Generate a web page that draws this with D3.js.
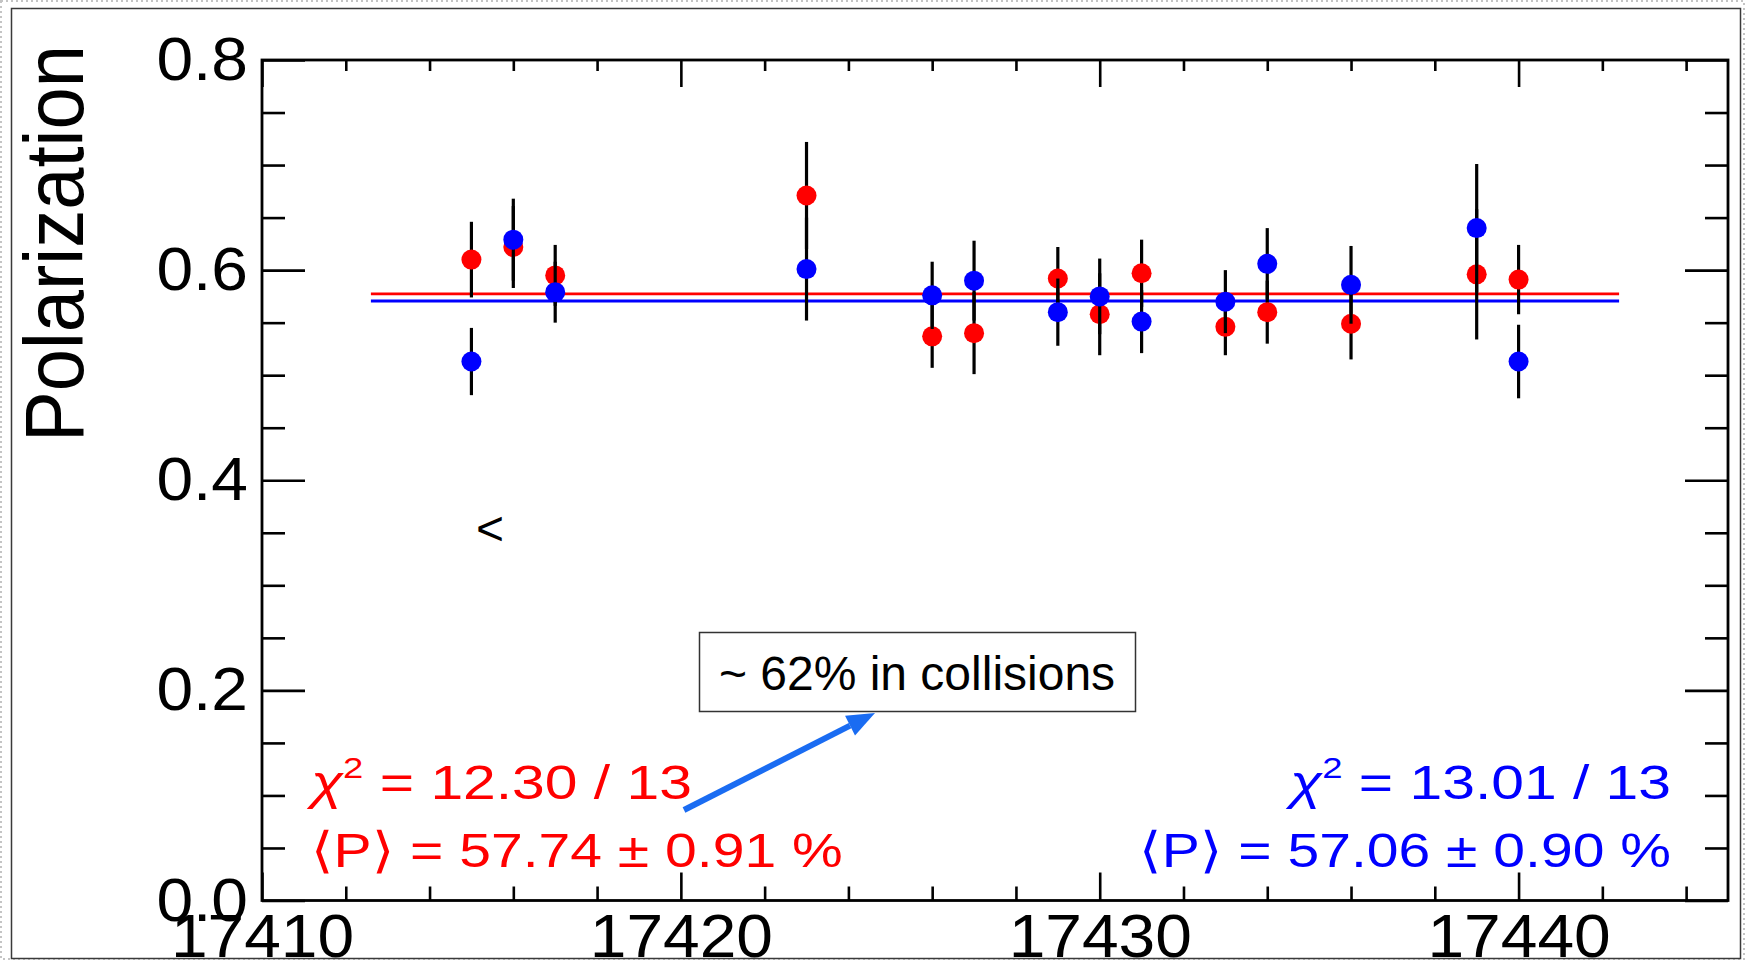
<!DOCTYPE html>
<html>
<head>
<meta charset="utf-8">
<script src="https://cdn.jsdelivr.net/npm/d3@7"></script>
<style>
  html, body { margin: 0; padding: 0; background: #fff; }
  svg { display: block; }
  text { font-family: "Liberation Sans", Arial, Helvetica, sans-serif; }
</style>
</head>
<body>
<svg id="chart" width="1745" height="960"></svg>
<script>
// Fill numbers (day index) and polarization measurements
const days      = [17415, 17416, 17417, 17423, 17426, 17427, 17429, 17430, 17431, 17433, 17434, 17436, 17439, 17440];
const redPol    = [0.610, 0.622, 0.595, 0.671, 0.537, 0.540, 0.592, 0.558, 0.597, 0.546, 0.560, 0.549, 0.596, 0.591];
const redErr    = [0.036, 0.039, 0.029, 0.051, 0.030, 0.039, 0.030, 0.039, 0.032, 0.027, 0.030, 0.034, 0.062, 0.033];
const bluePol   = [0.513, 0.629, 0.579, 0.601, 0.576, 0.590, 0.560, 0.575, 0.551, 0.570, 0.606, 0.586, 0.640, 0.513];
const blueErr   = [0.032, 0.039, 0.029, 0.049, 0.032, 0.038, 0.032, 0.036, 0.030, 0.030, 0.034, 0.037, 0.061, 0.035];

// Constant fit results (fraction) and the range the fit line spans
const fitRed   = 0.5774;
const fitBlue  = 0.5706;
const fitRange = [17412.6, 17442.4];

// Axis tick values
const xMajorTicks = [17410, 17420, 17430, 17440];
const xMinorTicks = [17412, 17414, 17416, 17418, 17422, 17424, 17426, 17428, 17432, 17434, 17436, 17438, 17442, 17444];
const yMajorTicks = [0.0, 0.2, 0.4, 0.6, 0.8];
const yMinorTicks = [0.05, 0.10, 0.15, 0.25, 0.30, 0.35, 0.45, 0.50, 0.55, 0.65, 0.70, 0.75];

// Text blocks
const redLines  = ["= 12.30 / 13", "⟨P⟩ = 57.74 ± 0.91 %"];
const blueLines = ["= 13.01 / 13", "⟨P⟩ = 57.06 ± 0.90 %"];
const boxLabel  = "~ 62% in collisions";
const yTitle    = "Polarization";

const RED = "#ff0000", BLUE = "#0000ff";
const svg = d3.select("#chart");

// Page frame
svg.append("rect").attr("x", 1).attr("y", 1).attr("width", 1743).attr("height", 958)
  .attr("fill", "#fff").attr("stroke", "#c4c4c4").attr("stroke-width", 2).attr("stroke-dasharray", "2,3");
svg.append("rect").attr("x", 11.5).attr("y", 8.5).attr("width", 1729).attr("height", 950)
  .attr("fill", "none").attr("stroke", "#3a3a3a").attr("stroke-width", 1.5);

// Plot area
const L = 262, R = 1728, T = 60, B = 900.5;
const x = d3.scaleLinear().domain([17410, 17445]).range([L, R]);
const y = d3.scaleLinear().domain([0, 0.8]).range([B, T]);

const SX = 1.08;   // horizontal stretch of axis labels

function styleAxis(g) {
  g.selectAll(".domain").remove();
  g.selectAll(".tick line").attr("stroke", "#000").attr("stroke-width", 2.6);
}

// Left axis: major ticks with labels, minor ticks
const gl = svg.append("g").attr("transform", `translate(${L},0)`)
  .call(d3.axisLeft(y).tickValues(yMajorTicks).tickSizeInner(-43).tickSizeOuter(0)
    .tickPadding(13).tickFormat(d3.format(".1f")));
styleAxis(gl);
gl.selectAll(".tick text").attr("font-size", 61).attr("fill", "#000")
  .attr("font-family", '"Liberation Sans", Arial, sans-serif')
  .attr("transform", `scale(${SX},1)`);
const glm = svg.append("g").attr("transform", `translate(${L},0)`)
  .call(d3.axisLeft(y).tickValues(yMinorTicks).tickSizeInner(-23).tickSizeOuter(0).tickFormat(""));
styleAxis(glm);

// Right axis: ticks only
const gr = svg.append("g").attr("transform", `translate(${R},0)`)
  .call(d3.axisRight(y).tickValues(yMajorTicks).tickSizeInner(-43).tickSizeOuter(0).tickFormat(""));
styleAxis(gr);
const grm = svg.append("g").attr("transform", `translate(${R},0)`)
  .call(d3.axisRight(y).tickValues(yMinorTicks).tickSizeInner(-23).tickSizeOuter(0).tickFormat(""));
styleAxis(grm);

// Bottom axis
const gb = svg.append("g").attr("transform", `translate(0,${B})`)
  .call(d3.axisBottom(x).tickValues(xMajorTicks).tickSizeInner(-28).tickSizeOuter(0)
    .tickPadding(13).tickFormat(d3.format("d")));
styleAxis(gb);
gb.selectAll(".tick text").attr("font-size", 61).attr("fill", "#000")
  .attr("font-family", '"Liberation Sans", Arial, sans-serif')
  .attr("transform", `scale(${SX},1)`);
const gbm = svg.append("g").attr("transform", `translate(0,${B})`)
  .call(d3.axisBottom(x).tickValues(xMinorTicks).tickSizeInner(-14).tickSizeOuter(0).tickFormat(""));
styleAxis(gbm);

// Top axis: ticks only
const gt = svg.append("g").attr("transform", `translate(0,${T})`)
  .call(d3.axisTop(x).tickValues(xMajorTicks).tickSizeInner(-27).tickSizeOuter(0).tickFormat(""));
styleAxis(gt);
const gtm = svg.append("g").attr("transform", `translate(0,${T})`)
  .call(d3.axisTop(x).tickValues(xMinorTicks).tickSizeInner(-11).tickSizeOuter(0).tickFormat(""));
styleAxis(gtm);

// Axis frame
svg.append("rect").attr("x", L).attr("y", T).attr("width", R - L).attr("height", B - T)
  .attr("fill", "none").attr("stroke", "#000").attr("stroke-width", 2.8);

// Y axis title
svg.append("text")
  .attr("transform", `translate(83,45) scale(1.1,1) rotate(-90)`)
  .attr("text-anchor", "end").attr("font-size", 76).attr("fill", "#000")
  .text(yTitle);

// Fit lines
[[fitRed, RED], [fitBlue, BLUE]].forEach(([v, c]) => {
  svg.append("line")
    .attr("x1", x(fitRange[0])).attr("x2", x(fitRange[1]))
    .attr("y1", y(v)).attr("y2", y(v))
    .attr("stroke", c).attr("stroke-width", 2.8);
});

// Graphs: error bars then markers, red first, blue on top
function drawGraph(vals, errs, color) {
  const data = days.map((d, i) => ({ d, v: vals[i], e: errs[i] }));
  const g = svg.append("g");
  g.selectAll("line.err").data(data).join("line")
    .attr("class", "err")
    .attr("x1", p => x(p.d)).attr("x2", p => x(p.d))
    .attr("y1", p => y(p.v + p.e)).attr("y2", p => y(p.v - p.e))
    .attr("stroke", "#000").attr("stroke-width", 3.2);
  g.selectAll("circle").data(data).join("circle")
    .attr("cx", p => x(p.d)).attr("cy", p => y(p.v)).attr("r", 10)
    .attr("fill", color);
}
drawGraph(redPol, redErr, RED);
drawGraph(bluePol, blueErr, BLUE);

// Fit result text blocks
const TS = 49;
const TSX = [1.2, 1.165];
function fitText(lines, color, xPos, anchor) {
  const base = [799, 867];
  lines.forEach((str, i) => {
    const t = svg.append("text")
      .attr("transform", `translate(${xPos},${base[i]}) scale(${TSX[i]},1)`)
      .attr("text-anchor", anchor).attr("font-size", TS).attr("fill", color);
    if (i === 0) {
      t.append("tspan").attr("font-style", "italic").text("χ");
      t.append("tspan").attr("font-size", TS * 0.62).attr("dy", -TS * 0.42).text("2");
      t.append("tspan").attr("dy", TS * 0.42).text(" " + str);
    } else {
      t.text(str);
    }
  });
}
fitText(redLines, RED, 311, "start");
fitText(blueLines, BLUE, 1671, "end");

// Annotation box
svg.append("rect").attr("x", 699.5).attr("y", 632.5).attr("width", 436).attr("height", 79)
  .attr("fill", "#fff").attr("stroke", "#333").attr("stroke-width", 1.5);
svg.append("text").attr("x", 917).attr("y", 690).attr("text-anchor", "middle")
  .attr("font-size", 48).attr("fill", "#000").text(boxLabel);

// Arrow from the red result towards the box
const ax0 = 684, ay0 = 810, ax1 = 875, ay1 = 713;
const ang = Math.atan2(ay1 - ay0, ax1 - ax0);
const headLen = 28, headW = 11;
const bx = ax1 - headLen * Math.cos(ang), by = ay1 - headLen * Math.sin(ang);
svg.append("line").attr("x1", ax0).attr("y1", ay0).attr("x2", bx).attr("y2", by)
  .attr("stroke", "#1a6cf2").attr("stroke-width", 6);
svg.append("path")
  .attr("d", `M${ax1},${ay1} L${bx + headW * Math.sin(ang)},${by - headW * Math.cos(ang)} L${bx - headW * Math.sin(ang)},${by + headW * Math.cos(ang)} Z`)
  .attr("fill", "#1a6cf2");

// Stray marker glyph
svg.append("text").attr("x", 476).attr("y", 545).attr("font-size", 48).attr("fill", "#000").text("<");
</script>
</body>
</html>
